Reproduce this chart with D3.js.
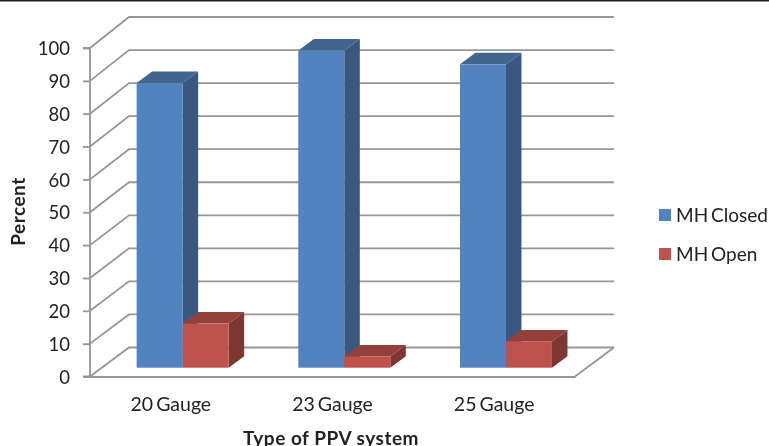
<!DOCTYPE html>
<html>
<head>
<meta charset="utf-8">
<script src="https://cdn.jsdelivr.net/npm/d3@7"></script>
<style>
  html, body { margin: 0; padding: 0; background: #fff; overflow: hidden; }
  svg { display: block; filter: blur(0.55px); }
  text { font-family: Lato, "Open Sans", sans-serif; fill: #222; word-spacing: -2px; }
  .axis-title { font-size: 19px; font-weight: 700; letter-spacing: 0.5px; word-spacing: 0; }
</style>
</head>
<body>
<svg class="chart" width="769" height="446"></svg>
<script>
const categories = ["20 Gauge", "23 Gauge", "25 Gauge"];
const seriesNames = ["MH Closed", "MH Open"];
const mhClosed = [86.5, 96.4, 92.2];
const mhOpen = [13.4, 3.4, 8];
const yTicks = [0, 10, 20, 30, 40, 50, 60, 70, 80, 90, 100];

const width = 769, height = 446;
const gridColor = "#969696";
// front, top, side colours for each series
const colors = {
  "MH Closed": {front: "#5083bf", top: "#426590", side: "#3a587f"},
  "MH Open": {front: "#c0524e", top: "#93403b", side: "#7c3730"}
};

const svg = d3.select(".chart");

// top rule of the page
svg.append("rect").attr("width", width).attr("height", 1.5).attr("fill", "#222");

// front plane of the box, and the back wall
const y = d3.scaleLinear().domain([0, 100]).range([376.5, 48]);
const yBack = d3.scaleLinear().domain([0, 100]).range([347.5, 17]);
const yBar = d3.scaleLinear().domain([0, 100]).range([367.7, 38.7]);
const x = d3.scaleBand().domain(categories).range([90, 575]);
const backShift = 39;

// bars sit a little behind the front plane
const barShift = 11.8;
const xInner = d3.scaleBand().domain(seriesNames).range([0, 92]);
const barDepth = {dx: 15.5, dy: -11.5};

const grid = svg.append("g")
  .attr("fill", "none")
  .attr("stroke", gridColor)
  .attr("stroke-width", 1.8);

// side wall lines + back wall lines
yTicks.forEach(function(t){
  grid.append("path").attr("d", d3.line()([
    [x.range()[0], y(t)],
    [x.range()[0] + backShift, yBack(t)],
    [x.range()[1] + backShift, yBack(t)]
  ]));
});

// floor edge on the right
grid.append("path").attr("d", d3.line()([
  [x.range()[1], y(0)],
  [x.range()[1] + backShift, yBack(0)]
]));

// axes
const yAxis = svg.append("g")
  .attr("transform", `translate(${x.range()[0]},0)`)
  .call(d3.axisLeft(y).tickValues(yTicks).tickSize(7).tickPadding(13).tickFormat(d3.format("d")));
const xAxis = svg.append("g")
  .attr("transform", `translate(0,${y(0)})`)
  .call(d3.axisBottom(x).tickSize(0).tickPadding(20.5));

[yAxis, xAxis].forEach(function(axis){
  axis.selectAll("path, line").attr("stroke", gridColor).attr("stroke-width", 1.8);
  axis.selectAll("text").style("font-size", "18.5px").attr("fill", "#222");
  axis.attr("font-family", null);
});
yAxis.select(".domain").attr("d", `M${-7},${y(100)}H0V${y(0)}H-7`);
yAxis.selectAll("text").attr("dy", "0.36em");
xAxis.selectAll("text").style("font-size", "19.5px");

// bars
const rows = [];
categories.forEach(function(c, i){
  rows.push({category: c, series: "MH Closed", value: mhClosed[i]});
  rows.push({category: c, series: "MH Open", value: mhOpen[i]});
});

const bars = svg.append("g").selectAll("g").data(rows).join("g");

bars.each(function(d){
  const g = d3.select(this);
  const c = colors[d.series];
  const left = x(d.category) + x.bandwidth() / 2 + barShift - 46 + xInner(d.series);
  const right = left + xInner.bandwidth();
  const top = yBar(d.value), base = yBar(0);
  const dx = barDepth.dx, dy = barDepth.dy;

  g.append("path").attr("fill", c.side).attr("d", d3.line()([
    [right, top], [right + dx, top + dy], [right + dx, base + dy], [right, base]
  ]) + "Z");
  g.append("path").attr("fill", c.top).attr("d", d3.line()([
    [left, top], [left + dx, top + dy], [right + dx, top + dy], [right, top]
  ]) + "Z");
  g.append("rect")
    .attr("x", left).attr("y", top)
    .attr("width", right - left).attr("height", base - top)
    .attr("fill", c.front);
});

// axis titles (the bottom one runs off the crop in the reference too)
svg.append("text")
  .attr("class", "axis-title")
  .attr("transform", "translate(25,211.5) rotate(-90)")
  .attr("text-anchor", "middle")
  .text("Percent");
svg.append("text")
  .attr("class", "axis-title")
  .attr("x", 331).attr("y", 444.5)
  .attr("text-anchor", "middle")
  .text("Type of PPV system");

// legend
const legendY = d3.scalePoint().domain(seriesNames).range([215, 254]);
const legend = svg.append("g").selectAll("g").data(seriesNames).join("g")
  .attr("transform", d => `translate(659,${legendY(d)})`);
legend.append("rect")
  .attr("y", -6).attr("width", 12).attr("height", 12)
  .attr("fill", d => colors[d].front);
legend.append("text")
  .attr("x", 17).attr("y", 6.5)
  .style("font-size", "19px")
  .text(d => d);
</script>
</body>
</html>
